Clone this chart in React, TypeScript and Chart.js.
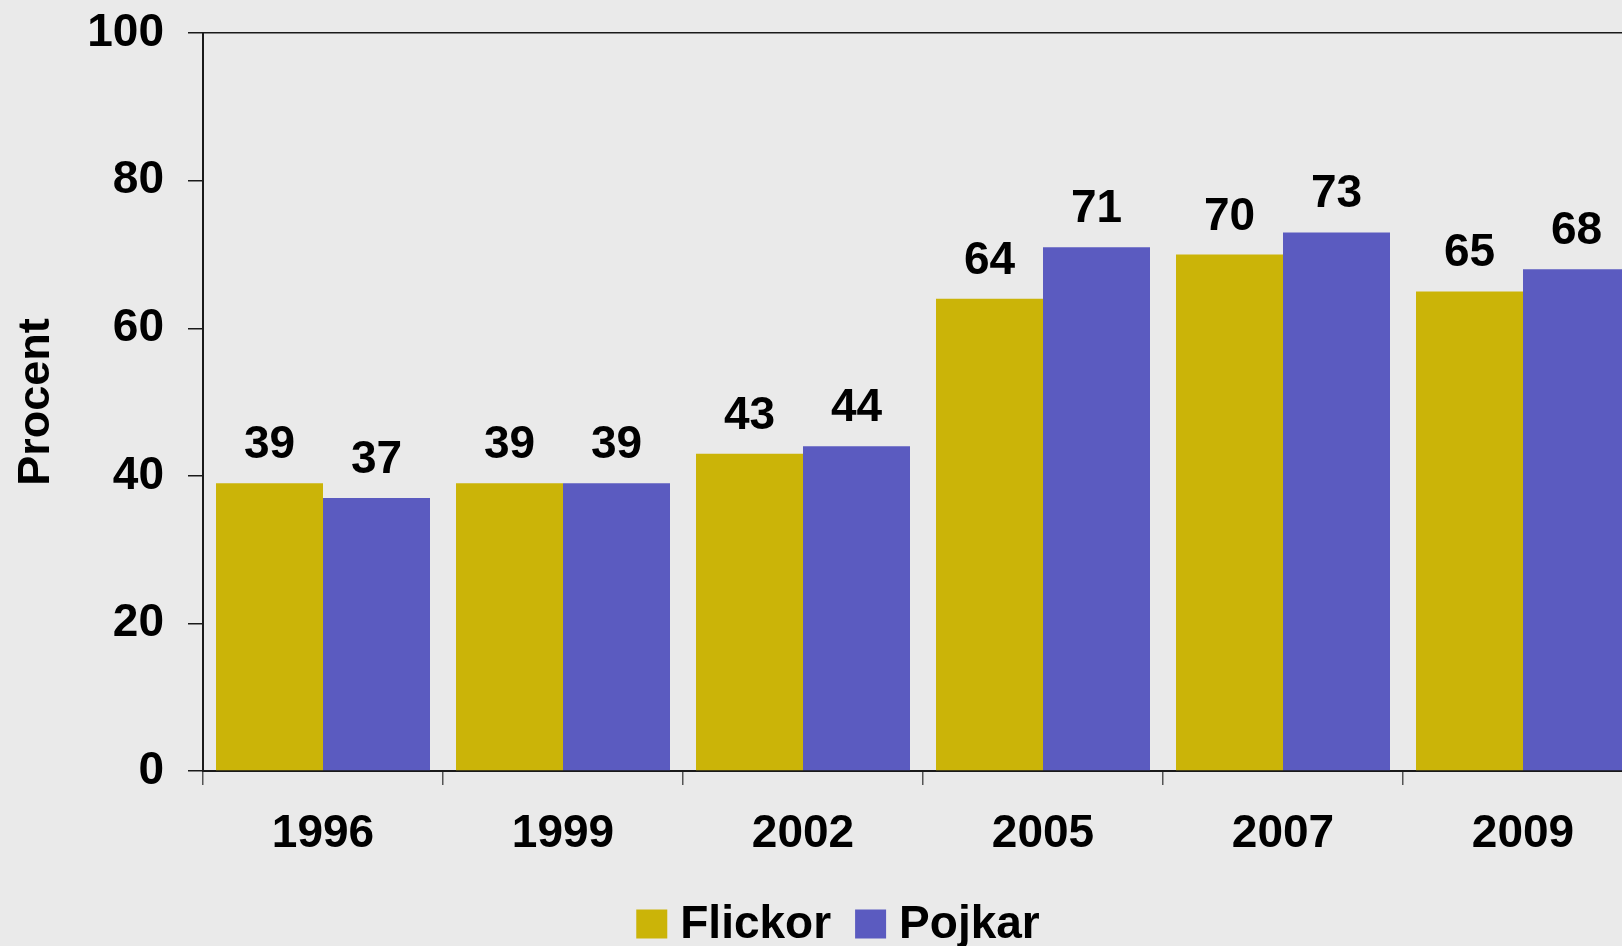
import React, { useEffect, useRef } from "react";
import { Chart, registerables } from "chart.js";

Chart.register(...registerables);

const categories = ["1996", "1999", "2002", "2005", "2007", "2009"];
const flickor = [39, 39, 43, 64, 70, 65];
const pojkar = [37, 39, 44, 71, 73, 68];
const seriesNames = ["Flickor", "Pojkar"];
const yTicks = [0, 20, 40, 60, 80, 100];

const GOLD = "rgb(203,180,8)";
const BLUE = "rgb(91,91,192)";
const BG = "rgb(234,234,234)";
const FONT = "'Liberation Sans', Arial, Helvetica, sans-serif";
const AXIS = "#1a1a1a";

const valueLabels = {
  id: "valueLabels",
  afterDatasetsDraw(chart: any) {
    const ctx = chart.ctx;
    ctx.save();
    ctx.font = `bold 46px ${FONT}`;
    ctx.fillStyle = "#000";
    ctx.textAlign = "center";
    ctx.textBaseline = "alphabetic";
    chart.data.datasets.forEach((ds: any, i: number) => {
      const meta = chart.getDatasetMeta(i);
      meta.data.forEach((el: any, j: number) => {
        ctx.fillText(String(ds.data[j]), el.x, el.y - 25);
      });
    });
    ctx.restore();
  },
};

const customLegend = {
  id: "customLegend",
  afterDraw(chart: any) {
    const ctx = chart.ctx;
    ctx.save();
    ctx.font = `bold 46px ${FONT}`;
    ctx.textBaseline = "middle";
    ctx.textAlign = "left";
    const boxW = 31;
    const boxH = 29;
    const gapBox = 13;
    const gapItem = 24;
    const items = chart.data.datasets.map((ds: any) => ({
      label: ds.label,
      color: ds.backgroundColor,
      w: boxW + gapBox + ctx.measureText(ds.label).width,
    }));
    const total = items.reduce((s: number, it: any) => s + it.w, 0) + gapItem * (items.length - 1);
    let x = chart.width / 2 - total / 2;
    const cy = 924;
    items.forEach((it: any) => {
      ctx.fillStyle = it.color;
      ctx.fillRect(x, cy - boxH / 2, boxW, boxH);
      ctx.fillStyle = "#000";
      ctx.fillText(it.label, x + boxW + gapBox, cy + 1);
      x += it.w + gapItem;
    });
    ctx.restore();
  },
};

export default function App() {
  const ref = useRef<HTMLCanvasElement | null>(null);
  useEffect(() => {
    document.body.style.margin = "0";
    document.body.style.background = BG;
    const canvas = ref.current!;
    const chart = new Chart(canvas, {
      type: "bar",
      data: {
        labels: categories,
        datasets: [
          { label: seriesNames[0], data: flickor, backgroundColor: GOLD, borderWidth: 0 },
          { label: seriesNames[1], data: pojkar, backgroundColor: BLUE, borderWidth: 0 },
        ],
      },
      options: {
        responsive: false,
        animation: false,
        maintainAspectRatio: false,
        devicePixelRatio: 1,
        layout: { padding: { left: 0, top: 31, right: 33, bottom: 0 } },
        datasets: {
          bar: { categoryPercentage: 214 / 240, barPercentage: 1.0 },
        },
        plugins: {
          legend: { display: false },
          tooltip: { enabled: false },
          title: { display: false },
        },
        scales: {
          x: {
            offset: true,
            grid: {
              display: true,
              offset: true,
              drawOnChartArea: false,
              drawTicks: true,
              tickLength: 14,
              color: "#555",
              tickColor: "#555",
              lineWidth: 1.5,
            },
            border: { display: true, color: AXIS, width: 2 },
            ticks: {
              color: "#000",
              font: { family: FONT, size: 46, weight: "bold" },
              padding: 22,
              maxRotation: 0,
              autoSkip: false,
            },
            afterFit(scale: any) {
              scale.height = 946 - 771;
            },
          },
          y: {
            min: 0,
            max: 100,
            afterBuildTicks(scale: any) {
              scale.ticks = yTicks.map((v) => ({ value: v }));
            },
            grid: {
              display: true,
              drawOnChartArea: true,
              drawTicks: true,
              tickLength: 15,
              color: (c: any) => (c.tick && c.tick.value === 100 ? AXIS : "rgba(0,0,0,0)"),
              tickColor: AXIS,
              lineWidth: 1.5,
            },
            border: { display: true, color: AXIS, width: 2 },
            ticks: {
              color: "#000",
              font: { family: FONT, size: 46, weight: "bold", lineHeight: 0.4 },
              padding: 24,
            },
            title: {
              display: true,
              text: "Procent",
              color: "#000",
              font: { family: FONT, size: 45, weight: "bold" },
              padding: { top: 10, bottom: 0 },
            },
            afterFit(scale: any) {
              scale.width = 203;
            },
          },
        },
      },
      plugins: [valueLabels, customLegend],
    } as any);
    return () => chart.destroy();
  }, []);
  return (
    <div
      style={{
        position: "fixed",
        left: 0,
        top: 0,
        width: 1622,
        height: 946,
        overflow: "hidden",
        background: BG,
      }}
    >
      <canvas ref={ref} width={1676} height={946} style={{ display: "block", width: 1676, height: 946 }} />
    </div>
  );
}
